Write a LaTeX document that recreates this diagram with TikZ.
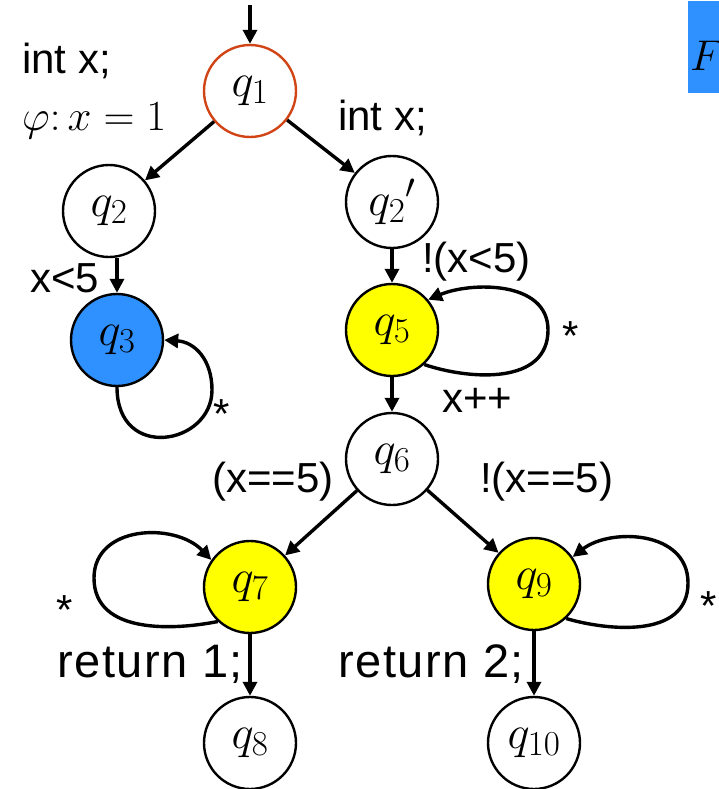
\documentclass[tikz,border=0pt]{standalone}
\usepackage{fix-cm}
\usepackage{fontspec}
\setmainfont{Liberation Sans}
\usetikzlibrary{arrows.meta}
\DeclareMathSizes{47}{47}{35}{26}
\definecolor{qblue}{RGB}{46,145,255}
\definecolor{qred}{RGB}{208,68,22}
\definecolor{qyellow}{RGB}{255,255,0}
\tikzset{
  state/.style={circle,draw,line width=2.4pt,minimum size=92pt,inner sep=0pt,font=\fontsize{47}{50}\selectfont},
  conn/.style={line width=3.4pt,-{Triangle[length=14pt,width=14pt]}},
  lab/.style={inner sep=0pt,anchor=base west,font=\fontsize{42}{46}\selectfont},
  retlab/.style={inner sep=0pt,anchor=base west,font=\fontsize{47}{50}\selectfont\addfontfeature{LetterSpace=3.3}},
  mlab/.style={inner sep=0pt,anchor=base west,font=\fontsize{43}{46}\selectfont},
}
\begin{document}
\begin{tikzpicture}[x=1pt,y=-1pt]
\useasboundingbox (0,0) rectangle (718,789);
\fill[white] (0,0) rectangle (718,789);

% blue box with F
\fill[qblue] (688,1) rectangle (722,93);
\node[mlab] (F) at (690,71) {$F$};

% states
\node[state,draw=qred] (q1) at (250,91) {$q_1$};
\node[state] (q2) at (109,211) {$q_2$};
\node[state,fill=qblue] (q3) at (117,340) {$q_3$};
\node[state] (q2p) at (392,202) {${q_2}'$};
\node[state,fill=qyellow] (q5) at (392,330) {$q_5$};
\node[state] (q6) at (392,459) {$q_6$};
\node[state,fill=qyellow] (q7) at (250,587) {$q_7$};
\node[state] (q8) at (250,743) {$q_8$};
\node[state,fill=qyellow] (q9) at (534,584) {$q_9$};
\node[state] (q10) at (534,743) {$q_{10}$};

% initial arrow
\coordinate (start) at (250,5);
\draw[conn] (start) -- (q1);

% edges
\draw[conn] (q1) -- (q2);
\draw[conn] (q1) -- (q2p);
\draw[conn] (q2.south -| q3.north) -- (q3.north);
\draw[conn] (q2p) -- (q5);
\draw[conn] (q5) -- (q6);
\draw[conn] (q6) -- (q7);
\draw[conn] (q6) -- (q9);
\draw[conn] (q7) -- (q8);
\draw[conn] (q9) -- (q10);

% self loops
\draw[conn] (q3.south) .. controls (117,462) and (212,445) .. (212,390)
  .. controls (212,360) and (195,342) .. (q3.east);
\draw[conn] (q5.-47) .. controls (470,380) and (548,385) .. (548,330)
  .. controls (548,280) and (470,282) .. (q5.40);
\draw[conn] (q7.227) .. controls (175,630) and (94,635) .. (94,578)
  .. controls (94,525) and (175,522) .. (q7.145);
\draw[conn] (q9.-47) .. controls (605,630) and (688,640) .. (688,583)
  .. controls (688,530) and (610,528) .. (q9.35);

% labels
\node[lab] (l1) at (22,74) {int x;};
\node[mlab] (l2) at (22,130) {$\varphi\colon x=1$};
\node[lab] (l3) at (338,131) {int x;};
\node[lab] (l4) at (30,292) {x<5};
\node[lab] (l5) at (422,272) {!(x<5)};
\node[lab] (s5) at (562,350) {*};
\node[lab] (l6) at (442,412) {x++};
\node[lab] (s3) at (213,428) {*};
\node[lab] (l7) at (212,492) {(x==5)};
\node[lab] (l8) at (480,492) {!(x==5)};
\node[lab] (s7) at (56,624) {*};
\node[lab] (s9) at (700,620) {*};
\node[retlab] (r1) at (57,677) {return 1;};
\node[retlab] (r2) at (338,677) {return 2;};
\end{tikzpicture}
\end{document}
